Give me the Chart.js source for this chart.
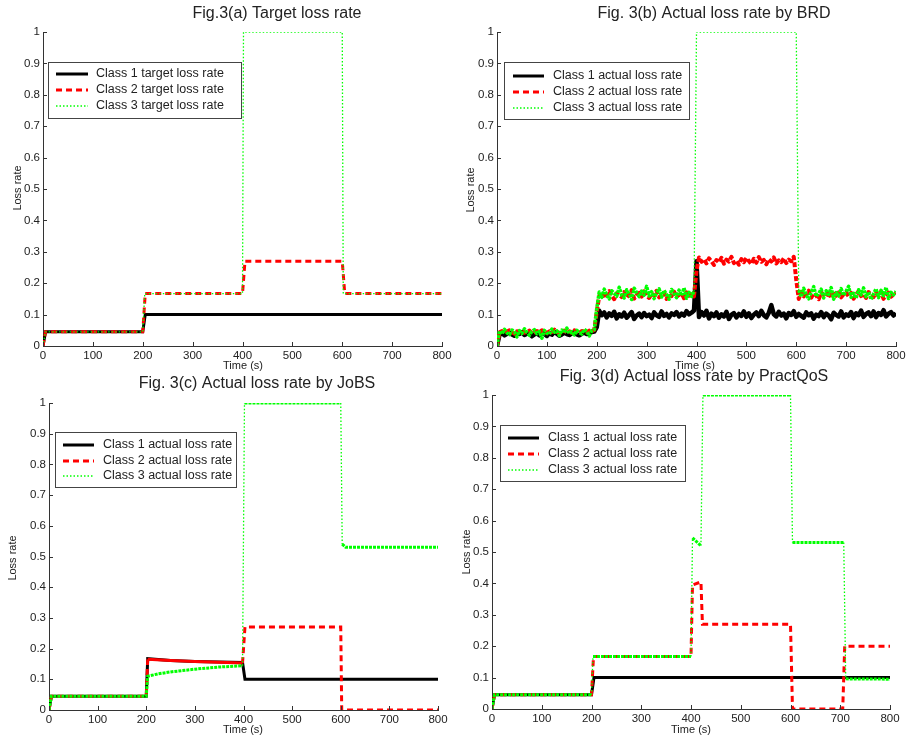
<!DOCTYPE html>
<html>
<head>
<meta charset="utf-8">
<script src="https://cdn.jsdelivr.net/npm/chart.js@4.4.1/dist/chart.umd.min.js"></script>
<style>
  body { margin: 0; background: #fff; width: 916px; height: 739px; position: relative; overflow: hidden; }
  canvas { position: absolute; }
</style>
</head>
<body>
<canvas id="figA" width="460" height="372" style="left:0;top:0"></canvas>
<canvas id="figB" width="456" height="372" style="left:460px;top:0"></canvas>
<canvas id="figC" width="460" height="379" style="left:0;top:360px"></canvas>
<canvas id="figD" width="456" height="379" style="left:460px;top:360px"></canvas>
<script>
// ---- Fig.3(a) target loss rates ----
const targetT1 = [0, 5, 200, 205, 800];
const targetC1 = [0, 0.045, 0.045, 0.1, 0.1];
const targetT2 = [0, 5, 200, 205, 400, 405, 600, 605, 800];
const targetC2 = [0, 0.045, 0.045, 0.167, 0.167, 0.27, 0.27, 0.167, 0.167];
const targetT3 = [0, 5, 200, 204, 400, 402, 600, 602, 800];
const targetC3 = [0, 0.045, 0.045, 0.167, 0.167, 1, 1, 0.167, 0.167];

// ---- Fig.3(b) BRD, sampled every 5 s ----
const brdTime = [
  0, 5, 10, 15, 20, 25, 30, 35, 40, 45, 50, 55, 60, 65, 70, 75, 80, 85, 90, 95,
  100, 105, 110, 115, 120, 125, 130, 135, 140, 145, 150, 155, 160, 165, 170, 175, 180, 185, 190, 195,
  200, 205, 210, 215, 220, 225, 230, 235, 240, 245, 250, 255, 260, 265, 270, 275, 280, 285, 290, 295,
  300, 305, 310, 315, 320, 325, 330, 335, 340, 345, 350, 355, 360, 365, 370, 375, 380, 385, 390, 395,
  400, 405, 410, 415, 420, 425, 430, 435, 440, 445, 450, 455, 460, 465, 470, 475, 480, 485, 490, 495,
  500, 505, 510, 515, 520, 525, 530, 535, 540, 545, 550, 555, 560, 565, 570, 575, 580, 585, 590, 595,
  600, 605, 610, 615, 620, 625, 630, 635, 640, 645, 650, 655, 660, 665, 670, 675, 680, 685, 690, 695,
  700, 705, 710, 715, 720, 725, 730, 735, 740, 745, 750, 755, 760, 765, 770, 775, 780, 785, 790, 795,
  800
];
const brdC1 = [
  0,
  0.036, 0.041, 0.034, 0.039, 0.043, 0.037, 0.033, 0.040, 0.038, 0.044,
  0.035, 0.039, 0.042, 0.031, 0.037, 0.040, 0.034, 0.043, 0.038, 0.032,
  0.041, 0.036, 0.045, 0.039, 0.033, 0.037, 0.042, 0.038, 0.035, 0.040,
  0.044, 0.037, 0.034, 0.039, 0.043, 0.038, 0.041, 0.044, 0.046,
  0.06,
  0.112, 0.098, 0.107, 0.091, 0.104, 0.096, 0.109, 0.088, 0.101, 0.094,
  0.106, 0.090, 0.099, 0.108, 0.086, 0.097, 0.103, 0.092, 0.105, 0.095,
  0.100, 0.089, 0.107, 0.098, 0.093, 0.110, 0.096, 0.102, 0.091, 0.104,
  0.099, 0.108, 0.094, 0.103, 0.097, 0.111, 0.101, 0.106, 0.113,
  0.27,
  0.092, 0.108, 0.097, 0.112, 0.088, 0.103, 0.095, 0.107, 0.090, 0.101,
  0.094, 0.109, 0.086, 0.099, 0.105, 0.091, 0.102, 0.096, 0.110, 0.093,
  0.104, 0.089, 0.100, 0.107, 0.095, 0.112, 0.098, 0.091, 0.106, 0.130,
  0.101, 0.094, 0.109, 0.097, 0.103, 0.088, 0.105, 0.099, 0.111, 0.093,
  0.102, 0.096, 0.090, 0.107, 0.098, 0.104, 0.087, 0.100, 0.095, 0.108,
  0.092, 0.103, 0.097, 0.085, 0.106, 0.099, 0.094, 0.110, 0.091, 0.101,
  0.096, 0.108, 0.089, 0.104, 0.098, 0.113, 0.093, 0.102, 0.107, 0.095,
  0.110, 0.092, 0.105, 0.099, 0.114, 0.094, 0.103, 0.108, 0.097, 0.104
];
const brdC2 = [
  0,
  0.044, 0.048, 0.041, 0.046, 0.050, 0.043, 0.039, 0.047, 0.045, 0.051,
  0.042, 0.046, 0.049, 0.040, 0.044, 0.048, 0.043, 0.050, 0.045, 0.041,
  0.047, 0.044, 0.052, 0.046, 0.040, 0.045, 0.049, 0.043, 0.047, 0.042,
  0.050, 0.045, 0.041, 0.048, 0.046, 0.043, 0.049, 0.047, 0.051,
  0.11,
  0.158, 0.171, 0.152, 0.166, 0.175, 0.160, 0.149, 0.168, 0.163, 0.156,
  0.172, 0.154, 0.165, 0.178, 0.151, 0.162, 0.169, 0.157, 0.174, 0.160,
  0.153, 0.167, 0.161, 0.176, 0.155, 0.164, 0.170, 0.150, 0.166, 0.159,
  0.173, 0.157, 0.163, 0.168, 0.152, 0.171, 0.160, 0.165, 0.158,
  0.24,
  0.282, 0.268, 0.276, 0.263, 0.279, 0.270, 0.258, 0.274, 0.266, 0.281,
  0.262, 0.275, 0.269, 0.284, 0.264, 0.272, 0.259, 0.277, 0.267, 0.280,
  0.271, 0.261, 0.278, 0.265, 0.283, 0.268, 0.274, 0.260, 0.276, 0.269,
  0.282, 0.263, 0.273, 0.267, 0.279, 0.264, 0.275, 0.270, 0.284,
  0.21,
  0.150, 0.172, 0.158, 0.166, 0.176, 0.154, 0.168, 0.161, 0.149, 0.170,
  0.163, 0.157, 0.174, 0.152, 0.167, 0.160, 0.178, 0.155, 0.165, 0.171,
  0.158, 0.169, 0.151, 0.164, 0.175, 0.159, 0.166, 0.153, 0.172, 0.162,
  0.156, 0.168, 0.160, 0.174, 0.150, 0.165, 0.170, 0.157, 0.163, 0.168
];
const brdC3 = [
  0,
  0.048, 0.038, 0.053, 0.042, 0.036, 0.051, 0.045, 0.029, 0.049, 0.040,
  0.055, 0.043, 0.034, 0.047, 0.052, 0.039, 0.046, 0.025, 0.050, 0.041,
  0.037, 0.054, 0.044, 0.048, 0.033, 0.051, 0.042, 0.057, 0.039, 0.046,
  0.035, 0.050, 0.043, 0.038, 0.053, 0.047, 0.032, 0.049, 0.052,
  0.12,
  0.172, 0.155, 0.181, 0.163, 0.150, 0.176, 0.168, 0.158, 0.187, 0.161,
  0.153, 0.179, 0.166, 0.148, 0.184, 0.170, 0.157, 0.175, 0.162, 0.190,
  0.159, 0.173, 0.151, 0.169, 0.182, 0.156, 0.177, 0.164, 0.149, 0.180,
  0.167, 0.154, 0.178, 0.160, 0.185, 0.152, 0.171, 0.158, 0.174,
  1,
  1, 1, 1, 1, 1, 1, 1, 1, 1, 1,
  1, 1, 1, 1, 1, 1, 1, 1, 1, 1,
  1, 1, 1, 1, 1, 1, 1, 1, 1, 1,
  1, 1, 1, 1, 1, 1, 1, 1, 1,
  1,
  0.178, 0.156, 0.184, 0.162, 0.150, 0.173, 0.189, 0.158, 0.167, 0.181,
  0.153, 0.176, 0.164, 0.186, 0.149, 0.170, 0.159, 0.183, 0.161, 0.175,
  0.190, 0.155, 0.168, 0.152, 0.179, 0.163, 0.185, 0.157, 0.172, 0.148,
  0.166, 0.182, 0.154, 0.177, 0.160, 0.187, 0.151, 0.171, 0.163, 0.174
];

// ---- Fig.3(c) JoBS ----
const jobsT1 = [0, 5, 200, 203, 250, 300, 398, 403, 800];
const jobsC1 = [0, 0.045, 0.045, 0.167, 0.161, 0.158, 0.155, 0.1, 0.1];
const jobsT2 = [0, 5, 200, 203, 250, 300, 398, 403, 600, 602, 800];
const jobsC2 = [0, 0.045, 0.045, 0.165, 0.161, 0.158, 0.153, 0.27, 0.27, 0, 0];
const jobsT3 = [0, 5, 200, 203, 225, 250, 300, 350, 398, 402, 600, 603, 610, 800];
const jobsC3 = [0, 0.045, 0.045, 0.11, 0.118, 0.124, 0.133, 0.14, 0.144, 1, 1, 0.54, 0.53, 0.53];

// ---- Fig.3(d) PractQoS ----
const pqT1 = [0, 5, 200, 205, 800];
const pqC1 = [0, 0.045, 0.045, 0.1, 0.1];
const pqT2 = [0, 5, 200, 204, 400, 403, 420, 423, 600, 604, 705, 709, 800];
const pqC2 = [0, 0.045, 0.045, 0.167, 0.167, 0.395, 0.405, 0.27, 0.27, 0, 0, 0.2, 0.2];
const pqT3 = [0, 5, 200, 203, 400, 403, 420, 424, 600, 604, 707, 711, 800];
const pqC3 = [0, 0.045, 0.045, 0.167, 0.167, 0.545, 0.52, 1, 1, 0.53, 0.53, 0.096, 0.095];

const targetLabels = ['Class 1 target loss rate', 'Class 2 target loss rate', 'Class 3 target loss rate'];
const actualLabels = ['Class 1 actual loss rate', 'Class 2 actual loss rate', 'Class 3 actual loss rate'];

const FONT = '"Liberation Sans", Arial, Helvetica, sans-serif';
Chart.defaults.font.family = FONT;
Chart.defaults.font.size = 11.5;
Chart.defaults.color = '#222';

const BLACK = '#000000', RED = '#ff0000', GREEN = '#00ff00';
const legendStyles = [
  { color: BLACK, width: 3, dash: [] },
  { color: RED, width: 3, dash: [6, 4] },
  { color: GREEN, width: 1.3, dash: [1.5, 2] }
];

function pts(t, v) {
  return t.map((x, i) => ({ x: x, y: v[i] }));
}

// green looks thick where the trace is flat and noisy, thin dotted on the jumps
function flat(c, thinAtOne) {
  const y0 = c.p0.parsed.y, y1 = c.p1.parsed.y;
  if (thinAtOne && y0 === 1 && y1 === 1) return false;
  return Math.abs(y1 - y0) < 0.1;
}

function series(labels, d1, d2, d3, greenMode, redSeg) {
  const noisy = greenMode === 'b';
  const green = {
    label: labels[2], data: d3, borderColor: GREEN, borderWidth: 1.3, borderDash: [1.5, 2], order: 1
  };
  if (greenMode) {
    green.segment = {
      borderWidth: c => flat(c, noisy) ? (noisy ? 3.5 : 3) : 1.3,
      borderDash: c => flat(c, noisy) ? [3, 1] : [1.5, 2]
    };
  }
  const red = {
    label: labels[1], data: d2, borderColor: RED, borderWidth: noisy ? 4 : 3,
    borderDash: noisy ? [5, 2] : [6, 4], order: 2
  };
  if (redSeg) red.segment = redSeg;
  const black = { label: labels[0], data: d1, borderColor: BLACK, borderWidth: noisy ? 4.5 : 3, order: 3 };
  const out = [black, red, green];
  if (noisy) out.forEach(d => { d.borderJoinStyle = 'round'; });
  return out;
}

function makeLook(look) {
  return {
    id: 'matlabLook',
    afterDraw(chart) {
      const { ctx, chartArea: a, scales: { x, y } } = chart;
      ctx.save();
      // inward tick marks
      ctx.strokeStyle = '#333';
      ctx.lineWidth = 1;
      ctx.setLineDash([]);
      ctx.beginPath();
      x.ticks.forEach(t => {
        const px = Math.round(x.getPixelForValue(t.value)) + 0.5;
        ctx.moveTo(px, a.bottom);
        ctx.lineTo(px, a.bottom - 4);
      });
      y.ticks.forEach(t => {
        const py = Math.round(y.getPixelForValue(t.value)) + 0.5;
        ctx.moveTo(a.left, py);
        ctx.lineTo(a.left + 4, py);
      });
      ctx.stroke();

      ctx.fillStyle = '#222';
      ctx.textAlign = 'center';
      ctx.textBaseline = 'middle';
      ctx.font = '16px ' + FONT;
      ctx.fillText(look.title, look.titleAt[0], look.titleAt[1]);
      ctx.font = '11px ' + FONT;
      ctx.fillText('Time (s)', look.xLabelAt[0], look.xLabelAt[1]);
      ctx.save();
      ctx.translate(look.yLabelAt[0], look.yLabelAt[1]);
      ctx.rotate(-Math.PI / 2);
      ctx.fillText('Loss rate', 0, 0);
      ctx.restore();

      // legend box
      const b = look.box;
      ctx.fillStyle = '#fff';
      ctx.fillRect(b[0], b[1], b[2], b[3]);
      ctx.strokeStyle = '#444';
      ctx.strokeRect(b[0] + 0.5, b[1] + 0.5, b[2], b[3]);
      chart.data.datasets.forEach((ds, i) => {
        const st = legendStyles[i];
        const yy = look.rows[i];
        ctx.save();
        ctx.strokeStyle = st.color;
        ctx.lineWidth = st.width;
        ctx.setLineDash(st.dash);
        ctx.beginPath();
        ctx.moveTo(look.lineX[0], yy);
        ctx.lineTo(look.lineX[1], yy);
        ctx.stroke();
        ctx.restore();
        ctx.fillStyle = '#222';
        ctx.font = '12.5px ' + FONT;
        ctx.textAlign = 'left';
        ctx.fillText(ds.label, look.textX, yy);
      });
      ctx.restore();
    }
  };
}

function makeChart(id, datasets, pad, look) {
  new Chart(document.getElementById(id), {
    type: 'line',
    data: { datasets: datasets },
    options: {
      responsive: false,
      animation: false,
      events: [],
      layout: { padding: pad },
      elements: { point: { radius: 0 }, line: { tension: 0, borderCapStyle: 'butt' } },
      plugins: { legend: { display: false }, tooltip: { enabled: false } },
      scales: {
        x: {
          type: 'linear', min: 0, max: 800,
          ticks: { stepSize: 100, padding: 3, maxRotation: 0, autoSkip: false },
          grid: { display: false, drawTicks: false },
          border: { color: '#333' },
          afterFit: s => { s.height = 20; s.paddingLeft = 0; s.paddingRight = 0; }
        },
        y: {
          min: 0, max: 1,
          ticks: { stepSize: 0.1, padding: 3, callback: v => +v.toFixed(1) },
          grid: { display: false, drawTicks: false },
          border: { color: '#333' },
          afterFit: s => { s.width = 30; s.paddingTop = 0; s.paddingBottom = 0; }
        }
      }
    },
    plugins: [makeLook(look)]
  });
}

makeChart('figA',
  series(targetLabels, pts(targetT1, targetC1), pts(targetT2, targetC2), pts(targetT3, targetC3), null, null),
  { left: 13, right: 18, top: 32, bottom: 6 },
  { title: 'Fig.3(a) Target loss rate', titleAt: [277, 14], xLabelAt: [243, 366], yLabelAt: [18, 188],
    box: [48, 62, 193, 56], rows: [74, 90, 106], lineX: [56, 88], textX: 96 });

makeChart('figB',
  series(actualLabels, pts(brdTime, brdC1), pts(brdTime, brdC2), pts(brdTime, brdC3), 'b', null),
  { left: 7, right: 20, top: 32, bottom: 6 },
  { title: 'Fig. 3(b) Actual loss rate by BRD', titleAt: [254, 14], xLabelAt: [235, 366], yLabelAt: [11, 190],
    box: [44, 62, 185, 57], rows: [76, 92, 108], lineX: [53, 84], textX: 93 });

makeChart('figC',
  series(actualLabels, pts(jobsT1, jobsC1), pts(jobsT2, jobsC2), pts(jobsT3, jobsC3), 'c',
    { borderDash: c => (c.p0.parsed.x >= 203 && c.p1.parsed.x <= 398) ? [] : [6, 4] }),
  { left: 19, right: 22, top: 43, bottom: 9 },
  { title: 'Fig. 3(c) Actual loss rate by JoBS', titleAt: [257, 24], xLabelAt: [243, 370], yLabelAt: [13, 198],
    box: [55, 72, 181, 55], rows: [85, 101, 116], lineX: [63, 94], textX: 103 });

makeChart('figD',
  series(actualLabels, pts(pqT1, pqC1), pts(pqT2, pqC2), pts(pqT3, pqC3), 'd', null),
  { left: 2, right: 26, top: 35, bottom: 10 },
  { title: 'Fig. 3(d) Actual loss rate by PractQoS', titleAt: [234, 17], xLabelAt: [231, 370], yLabelAt: [7, 192],
    box: [40, 65, 185, 56], rows: [78, 94, 110], lineX: [48, 79], textX: 88 });
</script>
</body>
</html>
